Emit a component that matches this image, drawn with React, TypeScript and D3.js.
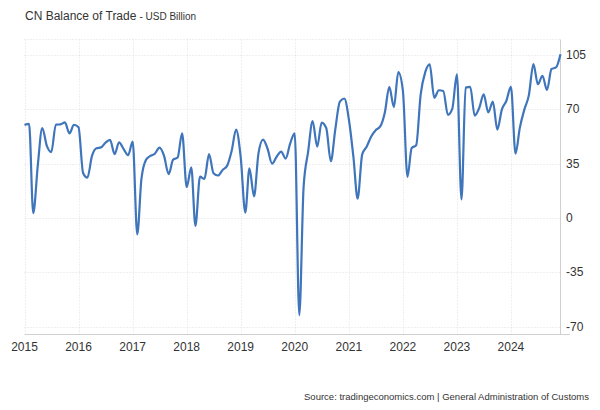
import React, { useMemo } from "react";
import * as d3 from "d3";

const startYear = 2015;
const yearLabels = ["2015", "2016", "2017", "2018", "2019", "2020", "2021", "2022", "2023", "2024"];
const yTicks = [-70, -35, 0, 35, 70, 105];

const y2015 = [60.0, 60.6, 3.1, 34.1, 58.0, 46.5, 42.5, 60.2, 60.3, 61.6, 54.5, 60.1];
const y2016 = [58.5, 29.0, 26.0, 40.0, 45.0, 45.5, 48.5, 50.3, 41.2, 48.8, 44.4, 40.5];
const y2017 = [49.2, -10.5, 25.0, 37.5, 40.0, 41.6, 45.3, 40.0, 28.3, 37.5, 39.0, 54.6];
const y2018 = [20.0, 32.6, -5.0, 26.7, 25.2, 41.2, 28.9, 27.4, 31.0, 33.6, 43.3, 57.0];
const y2019 = [39.2, 3.5, 32.0, 14.0, 41.7, 50.5, 44.8, 35.0, 39.5, 42.8, 38.3, 48.0];
const y2020 = [54.5, -62.5, 20.0, 43.0, 62.5, 46.0, 61.5, 58.0, 36.5, 57.0, 75.0, 77.0];
const y2021 = [63.5, 39.0, 12.5, 41.0, 46.0, 52.5, 56.6, 59.0, 68.0, 84.5, 71.5, 94.0];
const y2022 = [82.0, 26.5, 45.0, 47.0, 79.5, 94.0, 99.0, 77.5, 82.3, 81.8, 66.5, 70.5];
const y2023 = [92.5, 12.0, 84.0, 84.5, 66.0, 71.0, 79.7, 68.0, 75.0, 57.0, 70.0, 75.4];
const y2024 = [84.5, 41.5, 58.1, 70.0, 79.0, 99.2, 86.2, 91.6, 82.5, 96.0, 97.0, 105.5];

const balance = [...y2015, ...y2016, ...y2017, ...y2018, ...y2019, ...y2020, ...y2021, ...y2022, ...y2023, ...y2024];

const W = 600;
const H = 410;
const left = 24.5;
const right = 560.5;
const top = 39.5;
const bottom = 334.5;
const FONT = "'Liberation Sans', Arial, Helvetica, sans-serif";

export default function App() {
  const data = useMemo(
    () => balance.map((v, i) => ({ date: new Date(startYear, i, 1), value: v })),
    []
  );
  const x = d3
    .scaleTime()
    .domain([data[0].date, data[data.length - 1].date])
    .range([left, right]);
  const y = d3.scaleLinear().domain([-75, 115]).range([bottom, top]);
  const line = d3
    .line<{ date: Date; value: number }>()
    .x((d) => x(d.date))
    .y((d) => y(d.value))
    .curve(d3.curveMonotoneX);

  return (
    <svg
      width={W}
      height={H}
      style={{ position: "absolute", left: 0, top: 0, background: "#fff" }}
      fontFamily={FONT}
    >
      <rect x={0} y={0} width={W} height={H} fill="#fff" />
      <text x={25} y={20} fontSize={12} fill="#333">
        CN Balance of Trade
        <tspan fontSize={10} dx={3}>- USD Billion</tspan>
      </text>
      {yTicks.map((t) => (
        <line
          key={"hy" + t}
          x1={left}
          x2={right}
          y1={Math.round(y(t)) + 0.5}
          y2={Math.round(y(t)) + 0.5}
          stroke="#dedede"
          strokeDasharray="1,2"
        />
      ))}
      <line x1={left} x2={right} y1={top} y2={top} stroke="#dedede" strokeDasharray="1,2" />
      {yearLabels.map((yl) => {
        const xx = Math.round(x(new Date(+yl, 0, 1))) + 0.5;
        return (
          <line key={"vx" + yl} x1={xx} x2={xx} y1={top} y2={bottom} stroke="#dedede" strokeDasharray="1,2" />
        );
      })}
      <line x1={right} x2={right} y1={top} y2={bottom} stroke="#d0d0d0" />
      <line x1={left} x2={570} y1={bottom} y2={bottom} stroke="#d0d0d0" />
      <path d={line(data) || ""} fill="none" stroke="#3f75bb" strokeWidth={2.2} strokeLinejoin="round" />
      {yTicks.map((t) => (
        <text key={"ty" + t} x={566} y={y(t) + 4} fontSize={12} fill="#333">
          {t}
        </text>
      ))}
      {yearLabels.map((yl) => (
        <text
          key={"tx" + yl}
          x={x(new Date(+yl, 0, 1))}
          y={351}
          fontSize={12}
          fill="#333"
          textAnchor="middle"
        >
          {yl}
        </text>
      ))}
      <text x={589} y={400} fontSize={9.5} fill="#333" textAnchor="end">
        Source: tradingeconomics.com | General Administration of Customs
      </text>
    </svg>
  );
}
